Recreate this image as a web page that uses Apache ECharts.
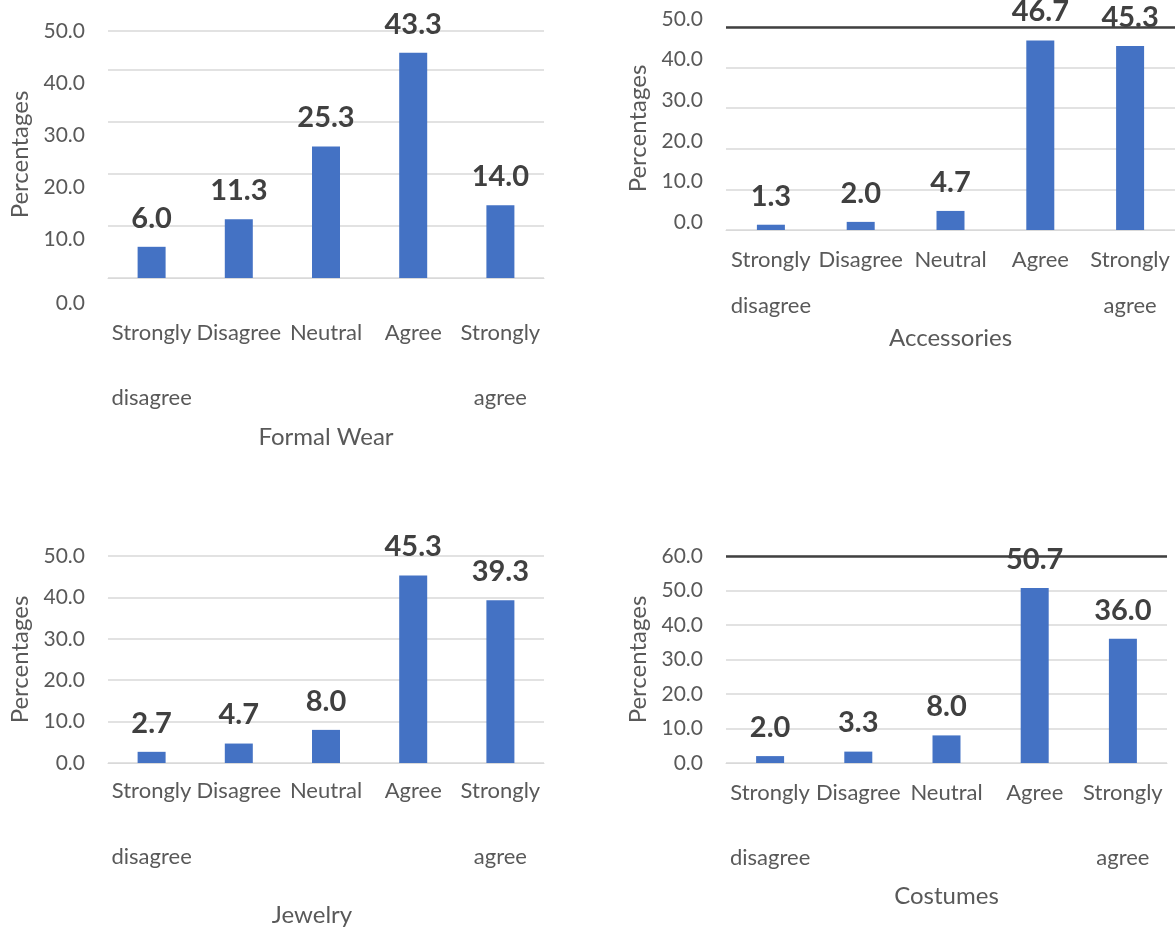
<!DOCTYPE html>
<html>
<head>
<meta charset="utf-8">
<script src="https://cdn.jsdelivr.net/npm/echarts@6/dist/echarts.min.js"></script>
<style>
  html, body { margin: 0; padding: 0; background: #fff; }
  #chart { width: 1175px; height: 930px; }
</style>
</head>
<body>
<div id="chart"></div>
<script>
// survey answers, one array per product group (percentages)
const categories = ['Strongly\ndisagree', 'Disagree', 'Neutral', 'Agree', 'Strongly\nagree'];
const panelNames = ['Formal Wear', 'Accessories', 'Jewelry', 'Costumes'];
const formalWear = [6.0, 11.3, 25.3, 43.3, 14.0];
const accessories = [1.3, 2.0, 4.7, 46.7, 45.3];
const jewelry = [2.7, 4.7, 8.0, 45.3, 39.3];
const costumes = [2.0, 3.3, 8.0, 50.7, 36.0];
const panelData = [formalWear, accessories, jewelry, costumes];

// value axis ranges; Formal Wear's top grid line sits below 50 but is labelled 50.0
const yMax = [47.5, 50, 50, 60];
const yTopLabel = ['50.0', null, null, null];
const topRule = [null, 50, null, 60];

const FONT = 'Lato';
const BLUE = '#4472C4';
const GRID_GRAY = '#D9D9D9';
const AXIS_TEXT = '#595959';
const VALUE_TEXT = '#404040';

// placement of each panel on the page
const layout = [
  { left: 108, top: 31, width: 436, height: 247, catMargin: 22, catLine: 65, xNameGap: 147, xNamePad: [0, 0, 0, 0] },
  { left: 726, top: 27, width: 452, height: 203, catMargin: 7, catLine: 46, xNameGap: 96, xNamePad: [0, 0, 0, 0] },
  { left: 108, top: 556, width: 436, height: 207, catMargin: -5, catLine: 66, xNameGap: 140, xNamePad: [0, 28, 0, 0] },
  { left: 726, top: 556, width: 441, height: 207, catMargin: -3, catLine: 65, xNameGap: 121, xNamePad: [0, 0, 0, 0] }
];

// per-panel tweak of where the y labels sit against their grid lines
function yLabelFormatter(i) {
  return function (v) {
    if (i === 0) {
      if (v === yMax[0]) return '{n|' + yTopLabel[0] + '}';
      if (v === 0) return '{z|0.0}';
      return '{d|' + v.toFixed(1) + '}';
    }
    if (i === 1) return '{u|' + v.toFixed(1) + '}';
    return v.toFixed(1);
  };
}

const grids = [], xAxes = [], yAxes = [], series = [];

layout.forEach(function (p, i) {
  grids.push({ left: p.left, top: p.top, width: p.width, height: p.height, containLabel: false });

  xAxes.push({
    type: 'category',
    gridIndex: i,
    data: categories,
    name: panelNames[i],
    nameLocation: 'middle',
    nameGap: p.xNameGap,
    nameMoveOverlap: false,
    nameTextStyle: { fontFamily: FONT, fontSize: 24, color: AXIS_TEXT, padding: p.xNamePad },
    axisLine: { show: true, lineStyle: { color: GRID_GRAY, width: 1 } },
    axisTick: { show: false },
    axisLabel: {
      interval: 0,
      margin: p.catMargin,
      lineHeight: p.catLine,
      fontFamily: FONT,
      fontSize: 22,
      color: AXIS_TEXT
    }
  });

  yAxes.push({
    type: 'value',
    gridIndex: i,
    min: 0,
    max: yMax[i],
    interval: 10,
    name: 'Percentages',
    nameLocation: 'middle',
    nameGap: 76,
    nameMoveOverlap: false,
    nameTextStyle: { fontFamily: FONT, fontSize: 24, color: AXIS_TEXT },
    axisLine: { show: false },
    axisTick: { show: false },
    splitLine: { lineStyle: { color: GRID_GRAY, width: 1.5 } },
    axisLabel: {
      margin: 23,
      fontFamily: FONT,
      fontSize: 21,
      color: AXIS_TEXT,
      formatter: yLabelFormatter(i),
      rich: {
        n: {},
        d: { padding: [26, 0, 0, 0] },
        z: { padding: [50, 0, 0, 0] },
        u: { padding: [0, 0, 16, 0] }
      }
    }
  });

  const s = {
    type: 'bar',
    xAxisIndex: i,
    yAxisIndex: i,
    data: panelData[i],
    barWidth: 28,
    itemStyle: { color: BLUE },
    label: {
      show: true,
      position: 'top',
      distance: 14,
      fontFamily: FONT,
      fontSize: 29,
      fontWeight: 'bold',
      color: VALUE_TEXT,
      formatter: function (d) { return d.value.toFixed(1); }
    }
  };
  if (topRule[i] !== null) {
    s.markLine = {
      silent: true,
      symbol: 'none',
      label: { show: false },
      lineStyle: { color: '#404040', width: 2.7, type: 'solid' },
      data: [{ yAxis: topRule[i] }]
    };
  }
  series.push(s);
});

const chart = echarts.init(document.getElementById('chart'));
chart.setOption({
  animation: false,
  backgroundColor: '#fff',
  grid: grids,
  xAxis: xAxes,
  yAxis: yAxes,
  series: series
});
</script>
</body>
</html>
